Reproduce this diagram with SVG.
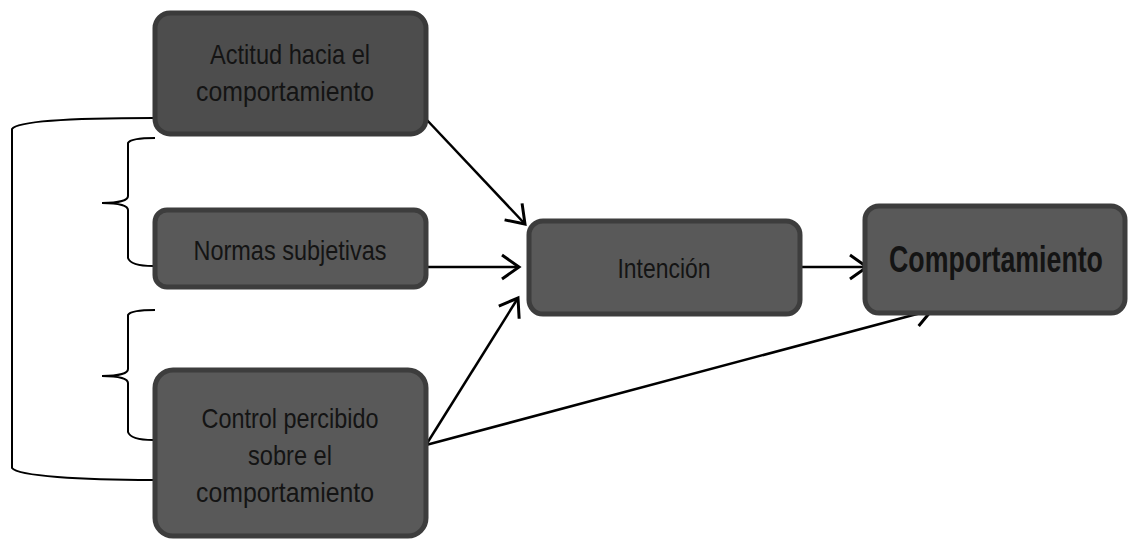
<svg xmlns="http://www.w3.org/2000/svg" width="1130" height="540" viewBox="0 0 1130 540">
<style>
.box{fill:#595959;stroke:#3d3d3d;stroke-width:5}
.box1{fill:#4d4d4d;stroke:#3a3a3a;stroke-width:5}
.t{font-family:"Liberation Sans",Arial,sans-serif;font-size:28px;fill:#141414;text-anchor:middle}
.tb{font-family:"Liberation Sans",Arial,sans-serif;font-size:37px;font-weight:bold;fill:#141414;text-anchor:middle}
.ln{fill:none;stroke:#000;stroke-width:2.5}
.br{fill:none;stroke:#000;stroke-width:2}
</style>
<defs>
<marker id="ah" markerUnits="userSpaceOnUse" markerWidth="30" markerHeight="30" viewBox="-20 -15 24 30" refX="0" refY="0" orient="auto">
<path d="M-17,-12 L0,0 L-17,12" fill="none" stroke="#000" stroke-width="3"/>
</marker>
</defs>
<g id="connectors">
<path class="br" d="M153,118 C80,118 18,120 12,129 L12,468 C18,476 80,480 153,480"/>
<path class="br" d="M155,138 C140,138 130,139 128,143 L128,196 C128,200 120,203 102,203 C120,203 128,206 128,210 L128,258 C130,264 140,266 153,266"/>
<path class="br" d="M155,310 C140,310 130,311 128,315 L128,369 C128,373 120,376 102,376 C120,376 128,379 128,383 L128,432 C130,438 140,440 153,440"/>
<line class="ln" x1="426" y1="119" x2="525" y2="224" marker-end="url(#ah)"/>
<line class="ln" x1="428" y1="267" x2="519" y2="267" marker-end="url(#ah)"/>
<line class="ln" x1="426" y1="445" x2="518" y2="298" marker-end="url(#ah)"/>
<line class="ln" x1="426" y1="445" x2="932" y2="310" marker-end="url(#ah)"/>
<line class="ln" x1="802" y1="267" x2="867" y2="267" marker-end="url(#ah)"/>
</g>
<g id="actitud">
<rect class="box1" x="155" y="13" width="271" height="121" rx="15"/>
<text class="t" x="290" y="64" textLength="160" lengthAdjust="spacingAndGlyphs">Actitud hacia el</text>
<text class="t" x="285" y="101" textLength="178" lengthAdjust="spacingAndGlyphs">comportamiento</text>
</g>
<g id="normas">
<rect class="box" x="155" y="210" width="271" height="77" rx="12"/>
<text class="t" x="290" y="260" textLength="193" lengthAdjust="spacingAndGlyphs">Normas subjetivas</text>
</g>
<g id="control">
<rect class="box" x="155" y="370" width="271" height="166" rx="18"/>
<text class="t" x="290" y="428" textLength="177" lengthAdjust="spacingAndGlyphs">Control percibido</text>
<text class="t" x="290" y="465" textLength="84" lengthAdjust="spacingAndGlyphs">sobre el</text>
<text class="t" x="285" y="502" textLength="178" lengthAdjust="spacingAndGlyphs">comportamiento</text>
</g>
<g id="intencion">
<rect class="box" x="529" y="221" width="271" height="93" rx="14"/>
<text class="t" x="664" y="278" textLength="93" lengthAdjust="spacingAndGlyphs">Intención</text>
</g>
<g id="comportamiento">
<rect class="box" x="865" y="206" width="260" height="107" rx="14"/>
<text class="tb" transform="translate(996,272) scale(0.723,1)" x="0" y="0">Comportamiento</text>
</g>
</svg>
